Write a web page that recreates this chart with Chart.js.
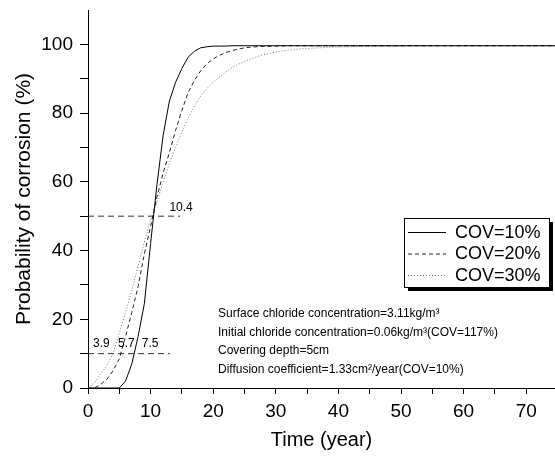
<!DOCTYPE html>
<html>
<head>
<meta charset="utf-8">
<script src="https://cdn.jsdelivr.net/npm/chart.js@4.4.0/dist/chart.umd.min.js"></script>
<style>
html, body { margin: 0; padding: 0; background: #fff; }
#wrap { width: 555px; height: 457px; position: relative; }
</style>
</head>
<body>
<div id="wrap"><canvas id="myChart"></canvas></div>
<script>
// years sampled along the curves
const years = [0,1,2,3,4,5,6,7,8,9,10,11,12,13,14,15,16,17,18,19,20,21,22,23,24,25,26,
               28,30,32,34,36,38,40,45,50,55,60,65,70,75];

// probability of corrosion (%)
const cov10 = [0,0,0,0,0,0,2,7,15,24.5,42,59,73.5,83.5,89,93,96.3,98,99,99.3,99.5,99.5,99.5,99.6,99.6,99.6,99.6,
               99.6,99.6,99.6,99.6,99.6,99.6,99.6,99.6,99.6,99.6,99.6,99.6,99.6,99.6];
const cov20 = [0,0,1,2.5,5,8.5,15,22,29.5,39,47,55.5,62.5,68.5,75,80.8,86,89.5,92.3,94.4,95.8,96.8,97.6,98.2,98.6,99,99.2,
               99.4,99.5,99.6,99.6,99.6,99.6,99.6,99.6,99.6,99.6,99.6,99.6,99.6,99.6];
const cov30 = [0,1.5,4,6.5,10,16,22,28.5,35.5,42.5,49,54,60,65.3,70,74.5,78.5,82,85,87.2,89,90.5,92,93.2,94.2,95,95.8,
               97,97.8,98.3,98.7,98.9,99.1,99.2,99.4,99.5,99.6,99.6,99.6,99.6,99.6];

const seriesNames = ['COV=10%', 'COV=20%', 'COV=30%'];

// axis ticks
const xTicks = [0,5,10,15,20,25,30,35,40,45,50,55,60,65,70];
const yTicks = [0,10,20,30,40,50,60,70,80,90,100];

// dashed reference lines: level and where they stop
const refLevels = [50, 10];
const refEnds = [14.7, 13.1];

// crossing labels
const markText = ['10.4', '3.9', '5.7', '7.5'];
const markX = [13.0, 0.8, 4.8, 8.6];
const markY = [52.6, 12.8, 12.8, 12.8];

const notes = [
  'Surface chloride concentration=3.11kg/m\u00b3',
  'Initial chloride concentration=0.06kg/m\u00b3(COV=117%)',
  'Covering depth=5cm',
  'Diffusion coefficient=1.33cm\u00b2/year(COV=10%)'
];

const FONT = "'Liberation Sans', Arial, sans-serif";
Chart.defaults.font.family = FONT;
Chart.defaults.color = '#000';

function pts(ys) { return years.map((x, i) => ({ x: x, y: ys[i] })); }

const curveStyles = [
  { borderColor: '#000', borderDash: [] },
  { borderColor: '#222', borderDash: [4, 3] },
  { borderColor: '#777', borderDash: [1, 2] }
];

const datasets = [cov10, cov20, cov30].map((ys, i) => ({
  label: seriesNames[i],
  data: pts(ys),
  borderColor: curveStyles[i].borderColor,
  borderDash: curveStyles[i].borderDash,
  borderWidth: 1,
  pointRadius: 0,
  tension: 0,
  fill: false
}));

refLevels.forEach((lvl, i) => {
  datasets.push({
    label: 'ref' + lvl,
    data: [{ x: 0, y: lvl }, { x: refEnds[i], y: lvl }],
    borderColor: '#333',
    borderDash: [6, 4],
    borderWidth: 1,
    pointRadius: 0,
    fill: false
  });
});

// text bits and the boxed legend
const extras = {
  id: 'extras',
  afterDatasetsDraw(chart) {
    const ctx = chart.ctx;
    const xs = chart.scales.x, ys = chart.scales.y;
    ctx.save();
    ctx.fillStyle = '#000';

    // crossing labels
    ctx.font = '12px ' + FONT;
    ctx.textAlign = 'left';
    ctx.textBaseline = 'middle';
    markText.forEach((t, i) => {
      ctx.fillText(t, xs.getPixelForValue(markX[i]), ys.getPixelForValue(markY[i]));
    });

    // parameter notes
    ctx.font = '12px ' + FONT;
    const noteY = [314, 333, 351, 370];
    notes.forEach((t, i) => ctx.fillText(t, 218, noteY[i]));

    // legend box with shadow
    const bx = 404, by = 218, bw = 145, bh = 69;
    ctx.fillStyle = '#000';
    ctx.fillRect(bx + 4, by + 4, bw, bh);
    ctx.fillStyle = '#fff';
    ctx.fillRect(bx, by, bw, bh);
    ctx.strokeStyle = '#000';
    ctx.lineWidth = 1;
    ctx.strokeRect(bx + 0.5, by + 0.5, bw, bh);

    const rows = [232, 253.5, 275];
    ctx.font = '18px ' + FONT;
    for (let i = 0; i < 3; i++) {
      const ds = chart.data.datasets[i];
      ctx.beginPath();
      ctx.setLineDash(ds.borderDash);
      ctx.strokeStyle = ds.borderColor;
      ctx.moveTo(408, rows[i] + 0.5);
      ctx.lineTo(446, rows[i] + 0.5);
      ctx.stroke();
      ctx.setLineDash([]);
      ctx.fillStyle = '#000';
      ctx.fillText(ds.label, 455, rows[i] + 1);
    }
    ctx.restore();
  }
};

new Chart(document.getElementById('myChart'), {
  type: 'line',
  data: { datasets: datasets },
  options: {
    responsive: true,
    maintainAspectRatio: false,
    animation: false,
    layout: { padding: { top: 10, left: 0, right: 0, bottom: 0 } },
    plugins: { legend: { display: false }, tooltip: { enabled: false } },
    scales: {
      x: {
        type: 'linear',
        min: 0,
        max: 74.6,
        afterBuildTicks(s) { s.ticks = xTicks.map(v => ({ value: v })); },
        afterFit(s) { s.height = 69; s.paddingLeft = 0; s.paddingRight = 0; },
        ticks: {
          autoSkip: false,
          maxRotation: 0,
          padding: 6,
          font: { size: 19 },
          callback: v => (v % 10 === 0 ? v : '')
        },
        grid: { drawOnChartArea: false, tickLength: 6, color: '#000', tickColor: '#000' },
        border: { color: '#000', width: 1 },
        title: { display: true, text: 'Time (year)', font: { size: 20 }, padding: { top: 0, bottom: 5 } }
      },
      y: {
        type: 'linear',
        min: 0,
        max: 110,
        afterBuildTicks(s) { s.ticks = yTicks.map(v => ({ value: v })); },
        afterFit(s) { s.width = 88; s.paddingTop = 0; s.paddingBottom = 0; },
        ticks: {
          autoSkip: false,
          padding: 7,
          font: { size: 19 },
          callback: v => (v % 20 === 0 ? v : '')
        },
        grid: { drawOnChartArea: false, tickLength: 8, color: '#000', tickColor: '#000' },
        border: { color: '#000', width: 1 },
        title: { display: true, text: 'Probability of corrosion (%)', font: { size: 21 }, padding: { top: 12, bottom: 0 } }
      }
    }
  },
  plugins: [extras]
});
</script>
</body>
</html>
